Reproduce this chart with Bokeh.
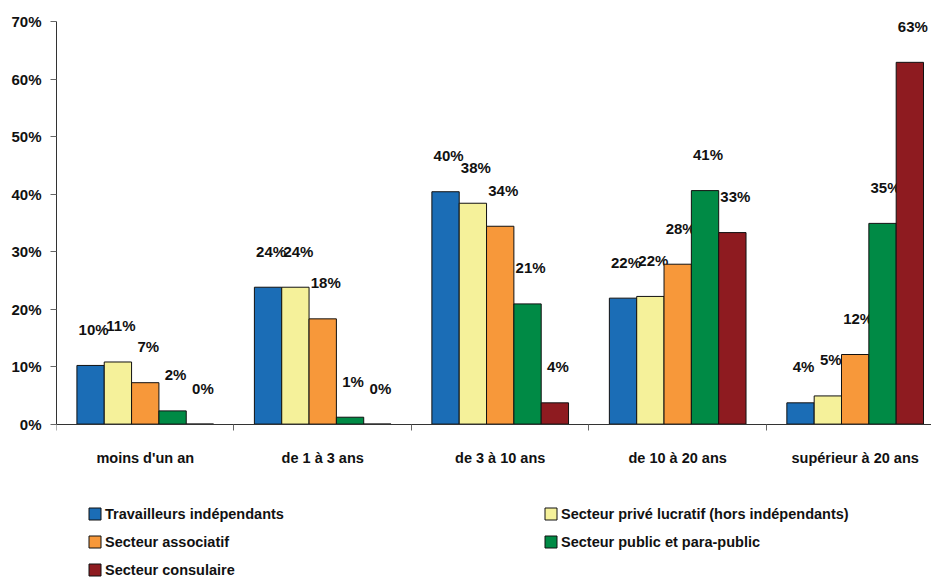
from bokeh.plotting import figure
from bokeh.models import (ColumnDataSource, Range1d, FixedTicker, PrintfTickFormatter,
                          Legend, LegendItem)
from bokeh.transform import dodge
from bokeh.core.properties import value
from bokeh.embed import file_html
from bokeh.resources import INLINE

# ---------------- data ----------------
categories = ["moins d'un an", "de 1 à 3 ans", "de 3 à 10 ans",
              "de 10 à 20 ans", "supérieur à 20 ans"]
series_names = ["Travailleurs indépendants",
                "Secteur privé lucratif (hors indépendants)",
                "Secteur associatif",
                "Secteur public et para-public",
                "Secteur consulaire"]
independants = [10.2, 23.8, 40.4, 21.9, 3.7]
prive = [10.8, 23.8, 38.4, 22.2, 4.9]
associatif = [7.2, 18.3, 34.4, 27.8, 12.1]
public = [2.3, 1.2, 20.9, 40.6, 34.9]
consulaire = [0.0, 0.0, 3.7, 33.3, 62.9]
y_ticks = [0, 10, 20, 30, 40, 50, 60, 70]

series = [independants, prive, associatif, public, consulaire]
colors = ["#1B6DB6", "#F5F19A", "#F7983A", "#008A45", "#8E1B20"]
keys = ["s0", "s1", "s2", "s3", "s4"]

FONT = "Liberation Sans"

centers = [i + 0.5 for i in range(len(categories))]
data = {"x": centers}
for k, s in zip(keys, series):
    data[k] = s
    data[k + "_lbl"] = [f"{v:.0f}%" for v in s]
src = ColumnDataSource(data)

# the frame extends below 0 to leave room for the category labels and the legend
p = figure(width=931, height=577, output_backend="svg", toolbar_location=None,
           x_range=Range1d(0, 4.93), y_range=Range1d(-26.67, 70),
           min_border_left=56, min_border_right=0, min_border_top=21,
           min_border_bottom=0)
p.outline_line_color = None
p.xgrid.visible = False
p.ygrid.visible = False
p.background_fill_color = "white"
p.border_fill_color = "white"

bw = 0.154
renderers = []
for i, (k, c) in enumerate(zip(keys, colors)):
    off = (i - 2) * bw
    r = p.vbar(x=dodge("x", off), top=k, width=bw, source=src,
               fill_color=c, line_color="#111111", line_width=1)
    renderers.append(r)
    p.text(x=dodge("x", off), y=k, text=k + "_lbl", source=src,
           x_offset=3, y_offset=-36, text_align="center", text_baseline="middle",
           text_font=value(FONT), text_font_style="bold", text_font_size="15px",
           text_color="#111111")

# y axis
ya = p.yaxis[0]
ya.ticker = FixedTicker(ticks=y_ticks)
ya.bounds = (0, 70)
ya.formatter = PrintfTickFormatter(format="%d%%")
ya.major_tick_out = 6
ya.major_tick_in = 0
ya.minor_tick_out = 0
ya.minor_tick_in = 0
ya.major_label_standoff = 9
ya.axis_line_color = "#333333"
ya.major_tick_line_color = "#666666"
ya.major_label_text_font = FONT
ya.major_label_text_font_style = "bold"
ya.major_label_text_font_size = "15px"
ya.major_label_text_color = "#111111"

# x axis at 0: labels at category centres, ticks at category boundaries
xa = p.xaxis[0]
xa.fixed_location = 0
xa.ticker = FixedTicker(ticks=centers,
                        minor_ticks=[float(i) for i in range(len(categories) + 1)])
xa.major_label_overrides = {c: name for c, name in zip(centers, categories)}
xa.major_tick_out = 0
xa.major_tick_in = 0
xa.minor_tick_out = 6
xa.minor_tick_in = 0
xa.minor_tick_line_color = "#666666"
xa.axis_line_color = "#333333"
xa.major_label_standoff = 20
xa.major_label_text_font = FONT
xa.major_label_text_font_style = "bold"
xa.major_label_text_font_size = "14.5px"
xa.major_label_text_color = "#111111"

legend = Legend(items=[LegendItem(label=n, renderers=[r]) for n, r in zip(series_names, renderers)],
                location=(31, -1), orientation="horizontal", ncols=2,
                glyph_width=15, glyph_height=15, label_width=427, label_height=17,
                label_standoff=3, spacing=11, padding=0, margin=0,
                border_line_color=None, background_fill_alpha=0,
                label_text_font=FONT, label_text_font_style="bold",
                label_text_font_size="14.5px", label_text_color="#111111")
p.add_layout(legend, "center")

open("out.html", "w").write(file_html(p, INLINE))
